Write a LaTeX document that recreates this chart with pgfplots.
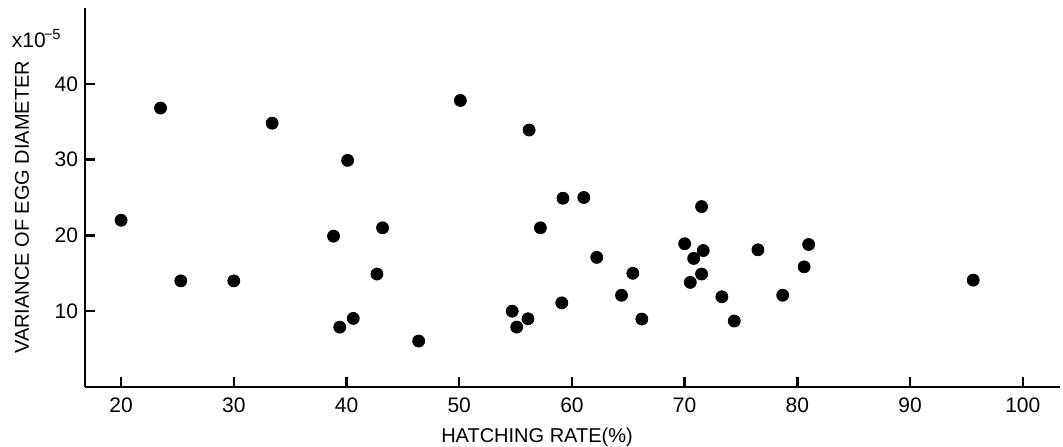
\documentclass[border=0pt]{standalone}
\usepackage{pgfplots}
\pgfplotsset{compat=1.18}
\usepackage{fontspec}
\setmainfont{Liberation Sans}

\pgfplotstableread{
x y
20.0 22.0
23.5 36.8
25.3 14.0
30.0 14.0
33.4 34.8
40.1 29.9
38.85 19.9
39.4 7.9
40.6 9.05
43.2 21.0
42.7 14.9
46.4 6.06
50.1 37.8
56.2 33.9
59.2 24.9
61.05 25.0
57.2 21.0
62.2 17.1
65.4 15.0
64.4 12.1
59.1 11.1
54.7 10.0
56.1 9.0
55.1 7.9
66.2 8.96
70.0 18.9
71.65 18.0
70.8 16.96
71.5 14.9
70.5 13.8
71.5 23.8
73.3 11.9
74.4 8.7
76.5 18.1
81.0 18.8
80.6 15.85
78.7 12.1
95.6 14.1
}\eggdata

\begin{document}
\begin{tikzpicture}
\begin{axis}[
  scale only axis,
  width=487.5pt, height=189.5pt,
  xmin=16.8, xmax=103.3, ymin=0, ymax=50,
  axis lines=left,
  axis line style={line width=1.2pt, -},
  tick align=inside,
  major tick length=5pt,
  tick style={line width=1.2pt, black},
  xtick={20,30,...,100},
  ytick={10,20,30,40},
  ticklabel style={font=\fontsize{10.5}{12}\selectfont},
  xticklabel style={yshift=-2pt},
  /pgf/number format/assume math mode=true,
  xlabel={HATCHING RATE(\%)},
  ylabel={VARIANCE OF EGG DIAMETER},
  label style={font=\fontsize{10}{12}\selectfont},
  xlabel style={at={(axis cs:56.9,0)}, anchor=center, yshift=-25pt},
  ylabel style={at={(rel axis cs:0,0.474)}, anchor=center, yshift=31.5pt},
  clip=false,
]
\addplot[only marks, mark=*, mark size=3pt, mark options={fill=black, draw=black}] table {\eggdata};
\node[anchor=base east, font=\fontsize{10.5}{12}\selectfont, inner sep=0pt] at (axis cs:16.8,44.8) [xshift=-11.5pt] {x10\textsuperscript{\kern-1pt−5}};
\coordinate (bl) at (rel axis cs:0,0);
\coordinate (tr) at (rel axis cs:1,1);
\end{axis}
\pgfresetboundingbox
\path ([shift={(-42.5pt,-30pt)}]bl) rectangle ([shift={(1.5pt,4pt)}]tr);
\end{tikzpicture}
\end{document}
